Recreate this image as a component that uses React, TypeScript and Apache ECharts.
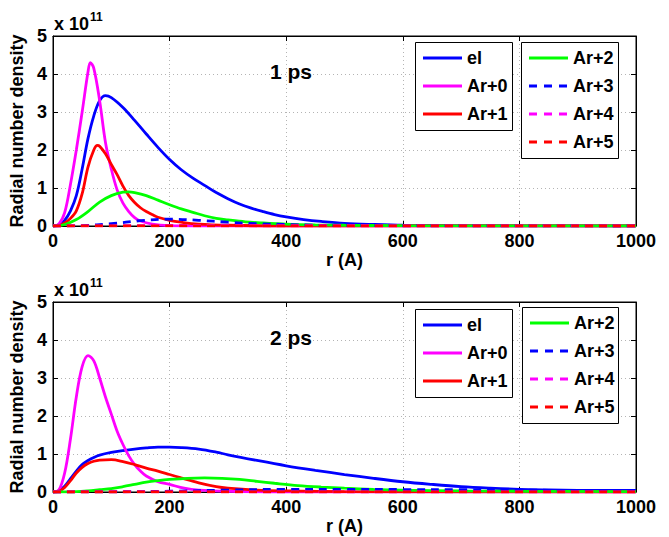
import React, { useEffect, useRef } from "react";
import * as echarts from "echarts";

const FONT = '"Liberation Sans", Arial, Helvetica, sans-serif';

const seriesNames = ["el", "Ar+0", "Ar+1", "Ar+2", "Ar+3", "Ar+4", "Ar+5"];
const seriesColors = ["#0000ff", "#ff00ff", "#ff0000", "#00ff00", "#0000ff", "#ff00ff", "#ff0000"];
const seriesDashed = [false, false, false, false, true, true, true];
const panelTitles = ["1 ps", "2 ps"];
const xTicks = [0, 200, 400, 600, 800, 1000];
const yTicks = [0, 1, 2, 3, 4, 5];

// 1 ps (values in units of 1e11)
const el1 = [[0,0],[10,0.03],[20,0.15],[30,0.4],[40,0.8],[50,1.5],[60,2.3],[70,2.9],[80,3.3],[90,3.43],[100,3.38],[120,3.12],[140,2.78],[160,2.42],[180,2.07],[200,1.75],[220,1.48],[240,1.26],[260,1.07],[280,0.88],[300,0.72],[320,0.58],[340,0.47],[360,0.38],[380,0.3],[400,0.24],[430,0.17],[460,0.12],[500,0.07],[550,0.04],[600,0.02],[700,0.01],[800,0.005],[1000,0]];
const ar0_1 = [[0,0],[10,0.05],[20,0.35],[30,1.1],[40,2.0],[50,3.0],[60,4.05],[64,4.3],[70,4.15],[80,3.3],[90,2.2],[100,1.5],[110,0.95],[120,0.6],[130,0.38],[140,0.22],[150,0.13],[170,0.05],[200,0.01],[250,0],[1000,0]];
const ar1_1 = [[0,0],[10,0.01],[20,0.08],[30,0.2],[40,0.4],[50,0.85],[60,1.55],[70,2.0],[76,2.12],[80,2.1],[90,1.9],[100,1.62],[110,1.35],[120,1.05],[130,0.8],[140,0.62],[150,0.48],[160,0.38],[170,0.3],[180,0.23],[200,0.15],[220,0.1],[250,0.05],[300,0.02],[400,0],[1000,0]];
const ar2_1 = [[0,0],[20,0.04],[40,0.17],[60,0.38],[80,0.63],[100,0.8],[120,0.89],[130,0.9],[140,0.88],[160,0.8],[180,0.68],[200,0.56],[220,0.45],[240,0.36],[260,0.27],[280,0.2],[300,0.16],[330,0.11],[360,0.08],[400,0.05],[450,0.03],[500,0.02],[600,0.01],[1000,0]];
const ar3_1 = [[0,0],[50,0.01],[100,0.06],[150,0.14],[200,0.18],[250,0.15],[300,0.1],[350,0.06],[400,0.04],[450,0.02],[500,0.01],[1000,0]];
const ar4_1 = [[0,0],[100,0.005],[200,0.015],[300,0.015],[400,0.01],[600,0.005],[1000,0]];
const ar5_1 = [[0,0],[200,0.003],[400,0.003],[1000,0]];

// 2 ps
const el2 = [[0,0],[10,0.03],[20,0.15],[30,0.35],[40,0.55],[50,0.72],[60,0.83],[70,0.91],[80,0.97],[100,1.04],[120,1.09],[140,1.13],[160,1.16],[180,1.18],[200,1.18],[220,1.17],[250,1.13],[280,1.05],[300,0.98],[350,0.83],[400,0.69],[450,0.57],[500,0.46],[550,0.36],[600,0.27],[650,0.2],[700,0.14],[750,0.1],[800,0.07],[850,0.055],[900,0.045],[1000,0.04]];
const ar0_2 = [[0,0],[10,0.05],[20,0.5],[30,1.4],[40,2.5],[50,3.3],[60,3.59],[70,3.45],[80,3.0],[90,2.5],[100,2.05],[110,1.6],[120,1.25],[130,0.95],[140,0.72],[150,0.55],[160,0.42],[180,0.27],[200,0.2],[225,0.1],[250,0.05],[300,0.02],[400,0],[1000,0]];
const ar1_2 = [[0,0],[10,0.02],[20,0.12],[30,0.3],[40,0.5],[50,0.65],[60,0.75],[70,0.81],[80,0.84],[100,0.85],[120,0.8],[140,0.72],[160,0.63],[180,0.55],[200,0.46],[220,0.37],[250,0.24],[280,0.14],[300,0.1],[350,0.05],[400,0.03],[500,0.01],[1000,0]];
const ar2_2 = [[0,0],[40,0.01],[60,0.03],[80,0.06],[100,0.09],[120,0.14],[140,0.2],[160,0.26],[180,0.3],[200,0.33],[230,0.36],[260,0.37],[290,0.36],[320,0.33],[350,0.28],[380,0.23],[420,0.17],[460,0.13],[500,0.1],[550,0.07],[600,0.05],[700,0.03],[800,0.02],[1000,0.01]];
const ar3_2 = [[0,0],[100,0.005],[200,0.02],[300,0.05],[400,0.07],[500,0.07],[600,0.065],[700,0.06],[800,0.05],[900,0.04],[1000,0.03]];
const ar4_2 = [[0,0],[200,0.003],[500,0.005],[1000,0.003]];
const ar5_2 = [[0,0],[500,0.002],[1000,0.001]];

const panelData = [
  [el1, ar0_1, ar1_1, ar2_1, ar3_1, ar4_1, ar5_1],
  [el2, ar0_2, ar1_2, ar2_2, ar3_2, ar4_2, ar5_2],
];

const GRID_LEFT = 53;
const GRID_W = 583;
const GRID_H = 190;
const GRID_TOPS = [36, 302];

const txt = { color: "#000", fontFamily: FONT, fontSize: 18, fontWeight: "bold" as const };

export default function App() {
  const ref = useRef<HTMLDivElement>(null);
  useEffect(() => {
    if (!ref.current) return;
    const chart = echarts.init(ref.current, undefined, { renderer: "svg" });
    const grids: any[] = [];
    const xAxes: any[] = [];
    const yAxes: any[] = [];
    const series: any[] = [];
    const graphics: any[] = [];
    const legendBoxes = [
      [{ x: 415, y: 42, w: 97, items: [0, 1, 2] }, { x: 521, y: 42, w: 97, items: [3, 4, 5, 6] }],
      [{ x: 415, y: 309, w: 97, items: [0, 1, 2] }, { x: 522, y: 307, w: 96, items: [3, 4, 5, 6] }],
    ];
    GRID_TOPS.forEach((top, gi) => {
      grids.push({ left: GRID_LEFT, top, width: GRID_W, height: GRID_H, show: true, borderColor: "#000", borderWidth: 1, backgroundColor: "#fff" });
      const baseX = {
        gridIndex: gi, type: "value", min: xTicks[0], max: xTicks[xTicks.length - 1], interval: 200,
        axisLine: { show: true, onZero: false, lineStyle: { color: "#000", width: 1 } },
        axisTick: { show: true, inside: true, length: 5, lineStyle: { color: "#000" } },
      };
      xAxes.push({
        ...baseX, position: "bottom",
        axisLabel: { ...txt, margin: 6, formatter: (v: number) => String(v) },
        splitLine: { show: true, lineStyle: { color: "#b4b4b4", type: [1, 3], width: 1 } },
        name: "r (A)", nameLocation: "middle", nameGap: 23, nameTextStyle: { ...txt },
      });
      xAxes.push({ ...baseX, position: "top", axisLabel: { show: false }, splitLine: { show: false } });
      const baseY = {
        gridIndex: gi, type: "value", min: yTicks[0], max: yTicks[yTicks.length - 1], interval: 1,
        axisLine: { show: true, onZero: false, lineStyle: { color: "#000", width: 1 } },
        axisTick: { show: true, inside: true, length: 5, lineStyle: { color: "#000" } },
      };
      yAxes.push({
        ...baseY, position: "left",
        axisLabel: { ...txt, margin: 6 },
        splitLine: { show: true, lineStyle: { color: "#b4b4b4", type: [1, 3], width: 1 } },
        name: "Radial number density", nameLocation: "middle", nameGap: 21, nameTextStyle: { ...txt },
      });
      yAxes.push({ ...baseY, position: "right", axisLabel: { show: false }, splitLine: { show: false } });

      panelData[gi].forEach((d, si) => {
        series.push({
          type: "line", name: seriesNames[si], xAxisIndex: gi * 2, yAxisIndex: gi * 2,
          data: d, showSymbol: false, symbol: "none", smooth: 0.35,
          lineStyle: { color: seriesColors[si], width: 2.8, type: seriesDashed[si] ? [8, 6] : "solid" },
          itemStyle: { color: seriesColors[si] },
          z: 2 + si,
        });
      });

      legendBoxes[gi].forEach((b) => {
        const h = 11 + b.items.length * 21 + (b.items.length - 1) * 7;
        graphics.push({
          type: "rect", shape: { x: b.x + 0.5, y: b.y + 0.5, width: b.w, height: h }, z: 50,
          style: { fill: "#fff", stroke: "#000", lineWidth: 1 },
        });
        b.items.forEach((si, k) => {
          const cy = b.y + 5.5 + 10.5 + k * 28;
          graphics.push({
            type: "line", z: 51,
            shape: { x1: b.x + 8, y1: cy, x2: b.x + 47, y2: cy },
            style: { stroke: seriesColors[si], lineWidth: 2.8, lineDash: seriesDashed[si] ? [8, 7] : null },
          });
          graphics.push({
            type: "text", z: 51, x: b.x + 52, y: cy,
            style: { text: seriesNames[si], fill: "#000", fontFamily: FONT, fontSize: 18, fontWeight: "bold", verticalAlign: "middle", align: "left" },
          });
        });
      });

      graphics.push({
        type: "text", left: 270, top: top + 25, z: 40,
        style: { text: panelTitles[gi], fill: "#000", fontFamily: FONT, fontSize: 21, fontWeight: "bold" },
      });
      graphics.push({
        type: "text", left: 54, top: top - 25, z: 40,
        style: {
          text: "{a|x 10}{b|11}",
          rich: {
            a: { ...txt, fontSize: 18, verticalAlign: "bottom", lineHeight: 22 },
            b: { ...txt, fontSize: 12, verticalAlign: "top", lineHeight: 22, padding: [0, 0, 10, 1] },
          },
        },
      });
    });

    chart.setOption({
      animation: false,
      backgroundColor: "#fff",
      grid: grids,
      xAxis: xAxes,
      yAxis: yAxes,
      series,
      graphic: graphics,
    });
    return () => chart.dispose();
  }, []);
  return <div ref={ref} style={{ position: "fixed", left: 0, top: 0, width: 669, height: 537 }} />;
}
